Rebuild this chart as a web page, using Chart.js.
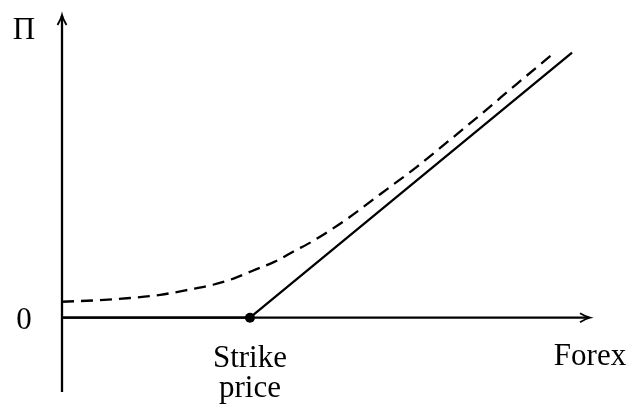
<!DOCTYPE html>
<html>
<head>
<meta charset="utf-8">
<script src="https://cdn.jsdelivr.net/npm/chart.js@4"></script>
<style>
html,body{margin:0;padding:0;background:#fff;}
#wrap{width:631px;height:405px;}
.pre{font-family:"Liberation Serif";position:absolute;left:-999px;top:-999px;}
</style>
</head>
<body>
<span class="pre">Strike price Forex Π 0</span>
<div id="wrap"><canvas id="c" width="631" height="405"></canvas></div>
<script>
// Data (abstract units)
const xRange = [0, 10];
const yRange = [-1.4, 5.7];
const strike = 3.56;
const payoffX = [0, 3.56, 9.66];
const payoffY = [0, 0, 4.99];
const valueX = [0, 0.72, 1.29, 1.86, 2.42, 2.86, 3.26, 3.60, 4.02, 4.41, 4.73, 5.40, 6.02, 6.72, 7.35, 7.97, 8.60, 9.30];
const valueY = [0.30, 0.33, 0.37, 0.43, 0.53, 0.62, 0.74, 0.88, 1.05, 1.26, 1.43, 1.86, 2.32, 2.84, 3.35, 3.86, 4.39, 4.97];
const labels = { yAxis: 'Π', zero: '0', strike: ['Strike', 'price'], xAxis: 'Forex' };

const toPts = (xs, ys) => xs.map((x, i) => ({ x: x, y: ys[i] }));

const FONT = '31px "Liberation Serif", "Times New Roman", Times, "DejaVu Serif", serif';

function arrow(ctx, tx, ty, dir) {
  ctx.save();
  ctx.translate(tx, ty);
  if (dir === 'up') ctx.rotate(-Math.PI / 2);
  ctx.beginPath();
  ctx.moveTo(-10, -4.5);
  ctx.quadraticCurveTo(-4, -1, 0, 0);
  ctx.quadraticCurveTo(-4, 1, -10, 4.5);
  ctx.lineWidth = 1.8;
  ctx.strokeStyle = '#000';
  ctx.stroke();
  ctx.restore();
}

const axesPlugin = {
  id: 'axesPlugin',
  beforeDatasetsDraw(chart) {
    const ctx = chart.ctx;
    const xs = chart.scales.x, ys = chart.scales.y;
    const x0 = xs.getPixelForValue(xRange[0]);
    const x1 = xs.getPixelForValue(xRange[1]);
    const yb = ys.getPixelForValue(yRange[0]);
    const yt = ys.getPixelForValue(yRange[1]);
    const yz = ys.getPixelForValue(0);
    ctx.save();
    ctx.strokeStyle = '#000';
    ctx.lineWidth = 2.3;
    ctx.lineCap = 'butt';
    ctx.beginPath();
    ctx.moveTo(x0, yb);
    ctx.lineTo(x0, yt + 1);
    ctx.stroke();
    ctx.beginPath();
    ctx.moveTo(x0 - 1, yz);
    ctx.lineTo(x1 - 1, yz);
    ctx.stroke();
    arrow(ctx, x0, yt, 'up');
    arrow(ctx, x1, yz, 'right');
    ctx.restore();
  },
  afterDatasetsDraw(chart) {
    const ctx = chart.ctx;
    const xs = chart.scales.x, ys = chart.scales.y;
    const x0 = xs.getPixelForValue(xRange[0]);
    const x1 = xs.getPixelForValue(xRange[1]);
    const yt = ys.getPixelForValue(yRange[1]);
    const yz = ys.getPixelForValue(0);
    const xk = xs.getPixelForValue(strike);
    ctx.save();
    ctx.fillStyle = '#000';
    ctx.font = FONT;
    ctx.textAlign = 'center';
    ctx.textBaseline = 'alphabetic';
    ctx.fillText(labels.yAxis, x0 - 38, yt + 24);
    ctx.fillText(labels.zero, x0 - 38, yz + 11);
    ctx.fillText(labels.strike[0], xk, yz + 49);
    ctx.fillText(labels.strike[1], xk, yz + 79);
    ctx.fillText(labels.xAxis, x1, yz + 47);
    ctx.restore();
  }
};

function draw() {
  new Chart(document.getElementById('c'), {
    type: 'line',
    data: {
      datasets: [
        {
          data: toPts(valueX, valueY),
          borderColor: '#000',
          borderWidth: 2.3,
          borderDash: [12, 7],
          pointRadius: 0,
          tension: 0.4,
          cubicInterpolationMode: 'monotone',
          fill: false
        },
        {
          data: toPts(payoffX, payoffY),
          borderColor: '#000',
          borderWidth: 2.3,
          pointRadius: 0,
          tension: 0,
          fill: false
        },
        {
          data: [{ x: strike, y: 0 }],
          borderColor: '#000',
          backgroundColor: '#000',
          pointRadius: 5,
          pointBorderWidth: 0,
          showLine: false
        }
      ]
    },
    options: {
      responsive: false,
      animation: false,
      devicePixelRatio: 1,
      layout: { padding: { left: 62, right: 41, top: 15, bottom: 13 } },
      plugins: { legend: { display: false }, tooltip: { enabled: false } },
      scales: {
        x: { type: 'linear', min: xRange[0], max: xRange[1], display: false },
        y: { type: 'linear', min: yRange[0], max: yRange[1], display: false }
      }
    },
    plugins: [axesPlugin]
  });
}

if (document.fonts && document.fonts.load) {
  Promise.all([
    document.fonts.load('31px "Liberation Serif"', 'Strike price Forex Π 0'),
    document.fonts.load('31px "DejaVu Serif"', 'Strike')
  ]).then(draw, draw);
} else {
  draw();
}
</script>
</body>
</html>
